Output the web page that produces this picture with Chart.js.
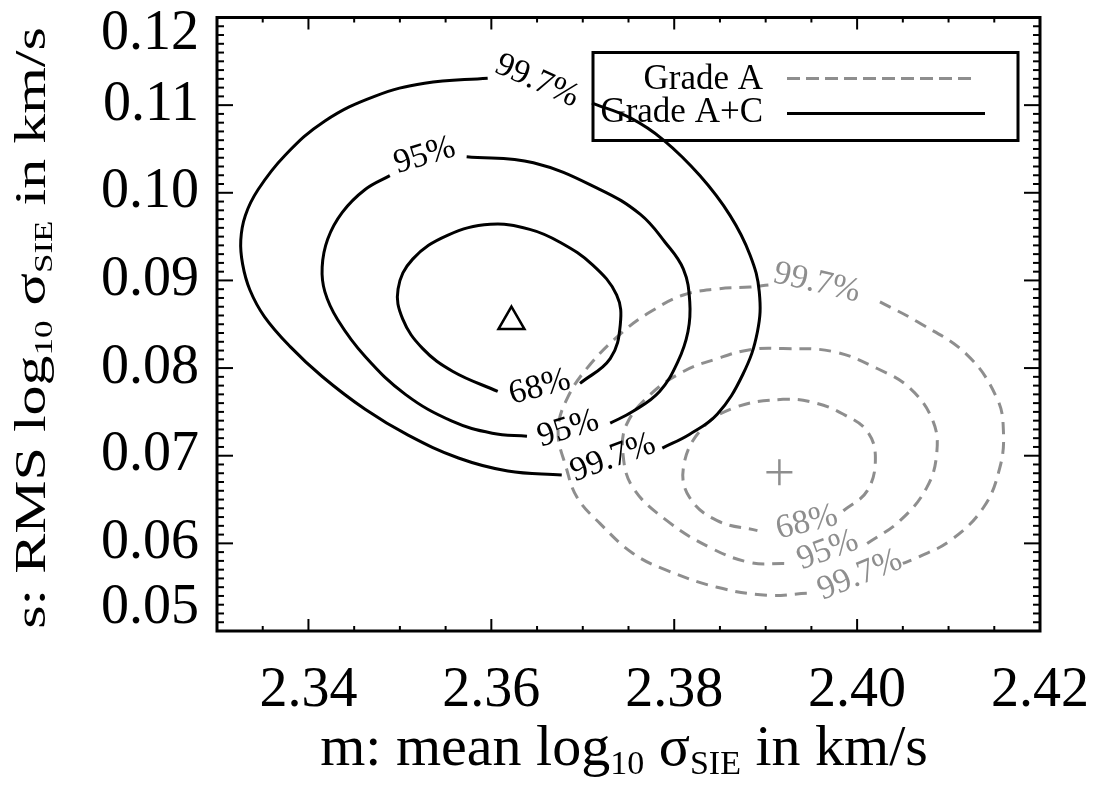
<!DOCTYPE html>
<html lang="en">
<head>
<meta charset="UTF-8">
<title>m vs s confidence contours</title>
<script src="https://cdn.jsdelivr.net/npm/chart.js@4"></script>
<style>
  body { margin: 0; background: #fff; }
  canvas { display: block; }
</style>
</head>
<body>
<canvas id="contourChart" width="1096" height="785"></canvas>
<script>
// contour points as [m, s]; a null splits the curve where its level label sits
const acLevel997 = [
  [2.3710, 0.11024], [2.3752, 0.10854], [2.3788, 0.10604], [2.3828, 0.10196],
  [2.3861, 0.09742], [2.3883, 0.09288], [2.3893, 0.08869], [2.3891, 0.08415],
  [2.3875, 0.07927], [2.3847, 0.07473], [2.3817, 0.07246], [2.3787, 0.07087],
  null,
  [2.3677, 0.06781], [2.3618, 0.06826], [2.3564, 0.06974], [2.3509, 0.07235],
  [2.3462, 0.07530], [2.3415, 0.07904], [2.3380, 0.08245], [2.3352, 0.08585],
  [2.3336, 0.08891], [2.3328, 0.09186], [2.3326, 0.09459], [2.3331, 0.09742],
  [2.3345, 0.10037], [2.3374, 0.10423], [2.3418, 0.10820], [2.3473, 0.11104],
  [2.3527, 0.11251], [2.3596, 0.11308]
];
const acLevel95 = [
  [2.3573, 0.10412], [2.3646, 0.10343], [2.3719, 0.10037], [2.3763, 0.09753],
  [2.3790, 0.09436], [2.3810, 0.09129], [2.3817, 0.08755], [2.3815, 0.08415],
  [2.3804, 0.08074], [2.3784, 0.07734], [2.3755, 0.07507], [2.3730, 0.07371],
  null,
  [2.3639, 0.07223], [2.3601, 0.07257], [2.3557, 0.07394], [2.3506, 0.07700],
  [2.3462, 0.08131], [2.3432, 0.08551], [2.3418, 0.08869], [2.3415, 0.09152],
  [2.3421, 0.09470], [2.3437, 0.09776], [2.3462, 0.10037], [2.3489, 0.10196]
];
const acLevel68 = [
  [2.3697, 0.07825], [2.3730, 0.08108], [2.3741, 0.08494], [2.3737, 0.08834],
  [2.3711, 0.09175], [2.3675, 0.09436], [2.3642, 0.09583], [2.3599, 0.09640],
  [2.3552, 0.09515], [2.3514, 0.09243], [2.3498, 0.08903], [2.3503, 0.08562],
  [2.3525, 0.08222], [2.3558, 0.07961], [2.3607, 0.07734]
];
const aLevel997 = [
  [2.4025, 0.08755], [2.4066, 0.08528], [2.4120, 0.08154], [2.4153, 0.07655],
  [2.4160, 0.07280], [2.4156, 0.06860], [2.4138, 0.06406], [2.4102, 0.06032],
  [2.4066, 0.05839], [2.4050, 0.05771],
  null,
  [2.3945, 0.05431], [2.3901, 0.05408], [2.3847, 0.05499], [2.3792, 0.05692],
  [2.3755, 0.05885], [2.3719, 0.06225], [2.3694, 0.06520], [2.3682, 0.06860],
  [2.3673, 0.07280], [2.3683, 0.07655], [2.3708, 0.08040], [2.3744, 0.08415],
  [2.3774, 0.08642], [2.3810, 0.08834], [2.3847, 0.08903], [2.3883, 0.08925],
  [2.3903, 0.08948]
];
const aLevel95 = [
  [2.4011, 0.05998], [2.4047, 0.06259], [2.4076, 0.06633], [2.4087, 0.07019],
  [2.4083, 0.07394], [2.4058, 0.07768], [2.4022, 0.07995], [2.3974, 0.08188],
  [2.3919, 0.08222], [2.3883, 0.08210], [2.3847, 0.08108], [2.3810, 0.07961],
  [2.3774, 0.07700], [2.3748, 0.07359], [2.3744, 0.07019], [2.3755, 0.06633],
  [2.3792, 0.06259], [2.3839, 0.05953], [2.3883, 0.05782], [2.3921, 0.05771]
];
const aLevel68 = [
  [2.3985, 0.06372], [2.4011, 0.06599], [2.4020, 0.06974], [2.4011, 0.07280],
  [2.3985, 0.07473], [2.3956, 0.07598], [2.3919, 0.07643], [2.3864, 0.07541],
  [2.3828, 0.07280], [2.3810, 0.06860], [2.3817, 0.06520], [2.3847, 0.06259],
  [2.3891, 0.06145]
];

// best-fit (m, s) for each sample
const bestFitA = [2.3915, 0.0681];
const bestFitAC = [2.3622, 0.0853];

const gradeNames = ['Grade A', 'Grade A+C'];
const levelNames = ['68%', '95%', '99.7%'];

// level labels: grade index, level index, where they sit (m, s) and their tilt
const levelTags = [
  { grade: 1, level: 2, m: 2.3650, s: 0.11274, angle: 24 },
  { grade: 1, level: 1, m: 2.3527, s: 0.10423, angle: -17 },
  { grade: 1, level: 0, m: 2.3653, s: 0.07779, angle: -15 },
  { grade: 1, level: 1, m: 2.3684, s: 0.07303, angle: -17 },
  { grade: 1, level: 2, m: 2.3733, s: 0.06974, angle: -20 },
  { grade: 0, level: 2, m: 2.3956, s: 0.08971, angle: 13 },
  { grade: 0, level: 0, m: 2.3945, s: 0.06236, angle: -14 },
  { grade: 0, level: 1, m: 2.3968, s: 0.05919, angle: -20 },
  { grade: 0, level: 2, m: 2.4003, s: 0.05635, angle: -22 }
];

const xTickValues = [2.34, 2.36, 2.38, 2.40, 2.42];
const xTickLabels = ['2.34', '2.36', '2.38', '2.40', '2.42'];
const yTickValues = [0.05, 0.06, 0.07, 0.08, 0.09, 0.10, 0.11, 0.12];
const yTickLabels = ['0.05', '0.06', '0.07', '0.08', '0.09', '0.10', '0.11', '0.12'];

const SERIF = "'Liberation Serif', 'Times New Roman', serif";
const GRAY = '#8e8e8e';
const gradeColors = [GRAY, '#000'];
const gradeDash = [[12, 8], []];

const toPoints = arr => arr.map(p => p ? { x: p[0], y: p[1] } : { x: null, y: null });

function contour(points, grade) {
  return {
    label: gradeNames[grade],
    data: toPoints(points),
    showLine: true,
    borderColor: gradeColors[grade],
    borderWidth: 3,
    borderDash: gradeDash[grade],
    pointRadius: 0,
    tension: 0.4,
    fill: false
  };
}

// inward ticks on all four sides plus the frame
const frameTicks = {
  id: 'frameTicks',
  afterDatasetsDraw(chart) {
    const { ctx, chartArea: a, scales: { x, y } } = chart;
    const line = (x1, y1, x2, y2) => { ctx.beginPath(); ctx.moveTo(x1, y1); ctx.lineTo(x2, y2); ctx.stroke(); };
    ctx.save();
    ctx.strokeStyle = '#000';
    ctx.lineWidth = 2;
    for (let i = 0; i <= 18; i++) {
      const px = x.getPixelForValue(2.33 + i * 0.005);
      const len = i % 4 === 2 ? 12 : 5;
      line(px, a.bottom, px, a.bottom - len);
      line(px, a.top, px, a.top + len);
    }
    for (let i = 0; i <= 70; i++) {
      const py = y.getPixelForValue(0.05 + i * 0.001);
      const len = i % 10 === 0 ? 16 : 7;
      line(a.left, py, a.left + len, py);
      line(a.right, py, a.right - len, py);
    }
    ctx.lineWidth = 3;
    ctx.strokeRect(a.left, a.top, a.width, a.height);
    ctx.restore();
  }
};

const levelLabels = {
  id: 'levelLabels',
  afterDatasetsDraw(chart) {
    const { ctx, scales: { x, y } } = chart;
    ctx.save();
    ctx.font = '34px ' + SERIF;
    ctx.textAlign = 'center';
    ctx.textBaseline = 'middle';
    levelTags.forEach(t => {
      ctx.save();
      ctx.translate(x.getPixelForValue(t.m), y.getPixelForValue(t.s));
      ctx.rotate(t.angle * Math.PI / 180);
      ctx.fillStyle = gradeColors[t.grade];
      ctx.fillText(levelNames[t.level], 0, 0);
      ctx.restore();
    });
    ctx.restore();
  }
};

const boxLegend = {
  id: 'boxLegend',
  afterDraw(chart) {
    const { ctx, chartArea: a } = chart;
    const left = a.left + 376, top = a.top + 35, right = a.right - 22, bottom = a.top + 123;
    ctx.save();
    ctx.strokeStyle = '#000';
    ctx.lineWidth = 3;
    ctx.strokeRect(left, top, right - left, bottom - top);
    ctx.font = '35px ' + SERIF;
    ctx.textAlign = 'right';
    ctx.textBaseline = 'alphabetic';
    const rows = [
      { grade: 0, base: top + 36, lineY: top + 26, end: right - 43 },
      { grade: 1, base: top + 69, lineY: top + 61, end: right - 33 }
    ];
    rows.forEach(r => {
      ctx.fillStyle = '#000';
      ctx.fillText(gradeNames[r.grade], left + 170, r.base);
      ctx.strokeStyle = gradeColors[r.grade];
      ctx.setLineDash(r.grade === 0 ? [13, 6] : []);
      ctx.beginPath();
      ctx.moveTo(left + 194, r.lineY);
      ctx.lineTo(r.end, r.lineY);
      ctx.stroke();
    });
    ctx.restore();
  }
};

// axis titles carry subscripts, so they are set piece by piece
const titleParts = [['log', 0], ['10', 1], [' \u03c3', 0], ['SIE', 1], [' in km/s', 0]];
function drawRich(ctx, parts, cx, cy, rotation, size, squash) {
  const main = size + 'px ' + SERIF, sub = Math.round(size * 0.59) + 'px ' + SERIF;
  ctx.save();
  ctx.translate(cx, cy);
  ctx.rotate(rotation);
  ctx.scale(1, squash);
  ctx.fillStyle = '#000';
  ctx.textBaseline = 'alphabetic';
  ctx.textAlign = 'left';
  let total = 0;
  parts.forEach(([t, s]) => { ctx.font = s ? sub : main; total += ctx.measureText(t).width; });
  let pos = -total / 2;
  parts.forEach(([t, s]) => {
    ctx.font = s ? sub : main;
    ctx.fillText(t, pos, s ? 9 : 0);
    pos += ctx.measureText(t).width;
  });
  ctx.restore();
}

const axisTitles = {
  id: 'axisTitles',
  afterDraw(chart) {
    const ctx = chart.ctx;
    drawRich(ctx, [['m: mean ', 0], ...titleParts], 624, 765, 0, 58, 1);
    drawRich(ctx, [['s: RMS ', 0], ...titleParts], 45, 328, -Math.PI / 2, 60, 0.74);
  }
};

new Chart(document.getElementById('contourChart'), {
  type: 'scatter',
  data: {
    datasets: [
      contour(acLevel997, 1),
      contour(acLevel95, 1),
      contour(acLevel68, 1),
      contour(aLevel997, 0),
      contour(aLevel95, 0),
      contour(aLevel68, 0),
      {
        label: gradeNames[1],
        data: [{ x: bestFitAC[0], y: bestFitAC[1] }],
        pointStyle: 'triangle',
        pointRadius: 15,
        borderColor: '#000',
        backgroundColor: 'rgba(0,0,0,0)',
        borderWidth: 2.5
      },
      {
        label: gradeNames[0],
        data: [{ x: bestFitA[0], y: bestFitA[1] }],
        pointStyle: 'cross',
        pointRadius: 13,
        borderColor: GRAY,
        borderWidth: 2.5
      }
    ]
  },
  options: {
    responsive: false,
    devicePixelRatio: 1,
    animation: false,
    layout: { padding: { top: 14, right: 56, bottom: 0, left: 0 } },
    plugins: { legend: { display: false }, tooltip: { enabled: false } },
    scales: {
      x: {
        type: 'linear',
        min: 2.33,
        max: 2.42,
        afterBuildTicks: s => { s.ticks = xTickValues.map(v => ({ value: v })); },
        afterFit: s => { s.height = 154; s.paddingLeft = 0; s.paddingRight = 0; },
        grid: { display: false },
        border: { display: false },
        ticks: {
          autoSkip: false,
          maxRotation: 0,
          padding: 19,
          color: '#000',
          font: { family: SERIF, size: 56 },
          callback: (v, i) => xTickLabels[i]
        }
      },
      y: {
        type: 'linear',
        min: 0.05,
        max: 0.12,
        afterBuildTicks: s => { s.ticks = yTickValues.map(v => ({ value: v })); },
        afterFit: s => { s.width = 217; s.paddingTop = 0; s.paddingBottom = 0; },
        grid: { display: false },
        border: { display: false },
        ticks: {
          autoSkip: false,
          padding: 10,
          color: '#000',
          // end labels are nudged inside the frame with an empty extra line
          font: c => ({
            family: SERIF,
            size: 56,
            lineHeight: c.index === 0 ? 0.82 : (c.index === yTickValues.length - 1 ? 0.6 : 1.2)
          }),
          callback: (v, i) => {
            if (i === 0) return [yTickLabels[i], ''];
            if (i === yTickLabels.length - 1) return ['', yTickLabels[i]];
            return yTickLabels[i];
          }
        }
      }
    }
  },
  plugins: [frameTicks, levelLabels, boxLegend, axisTitles]
});
</script>
</body>
</html>
